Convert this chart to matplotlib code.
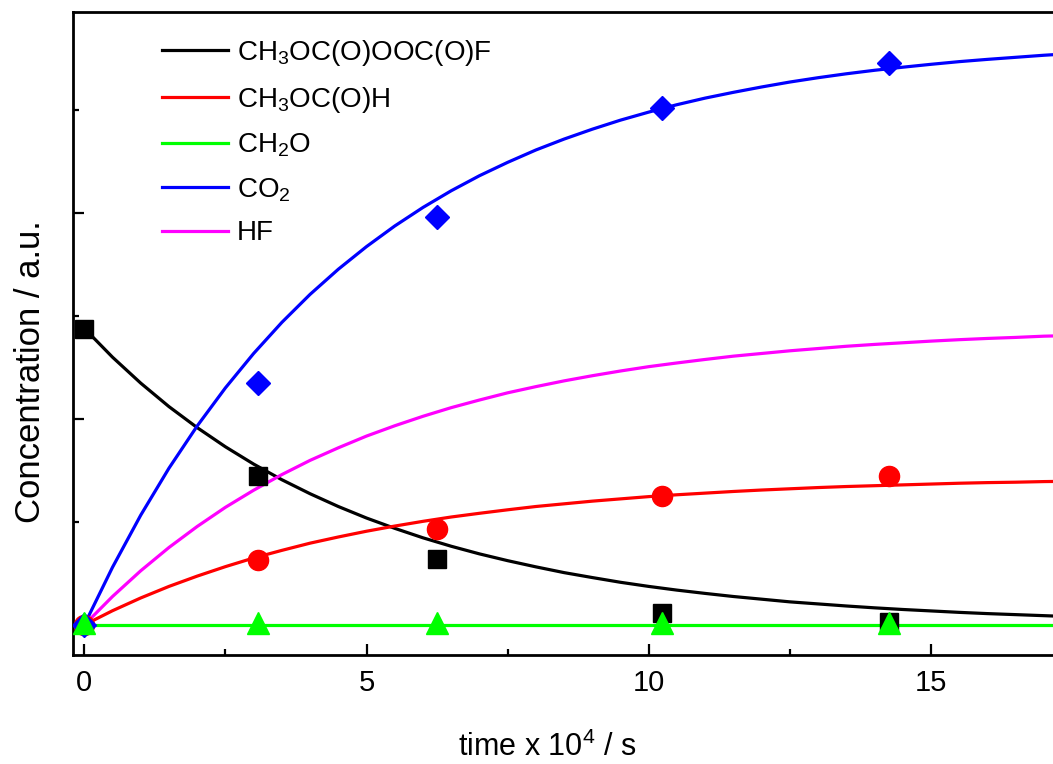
import numpy as np
import matplotlib
matplotlib.use('Agg')
import matplotlib.pyplot as plt
from matplotlib.ticker import MultipleLocator, NullFormatter

plt.rcParams['font.family'] = ['Liberation Sans', 'DejaVu Sans']
plt.rcParams['mathtext.default'] = 'regular'

# measured points (time in 1e4 s)
t_pts = [0, 3.07, 6.24, 10.23, 14.26]
peroxide_pts = [1.437, 0.723, 0.320, 0.058, 0.015]
formate_pts = [0, 0.316, 0.466, 0.626, 0.723]
ch2o_pts = [0.01, 0.01, 0.01, 0.01, 0.01]
co2_pts = [0, 1.175, 1.98, 2.51, 2.73]

# fitted curves
t_fit = [0, 0.5, 1, 1.5, 2, 2.5, 3, 3.5, 4, 4.5, 5, 5.5, 6, 6.5, 7, 7.5, 8, 8.5,
         9, 9.5, 10, 10.5, 11, 11.5, 12, 12.5, 13, 13.5, 14, 14.5, 15, 15.5,
         16, 16.5, 17, 17.3]
peroxide_fit = [1.440, 1.300, 1.174, 1.060, 0.958, 0.865, 0.781, 0.705, 0.637, 0.575,
                0.519, 0.469, 0.423, 0.382, 0.345, 0.312, 0.282, 0.254, 0.230, 0.207,
                0.187, 0.169, 0.153, 0.138, 0.125, 0.112, 0.102, 0.092, 0.083, 0.075,
                0.068, 0.061, 0.055, 0.050, 0.045, 0.042]
formate_fit = [0, 0.069, 0.131, 0.187, 0.237, 0.283, 0.325, 0.362, 0.397, 0.427,
               0.455, 0.480, 0.503, 0.524, 0.542, 0.559, 0.575, 0.588, 0.601, 0.612,
               0.623, 0.632, 0.640, 0.648, 0.655, 0.661, 0.667, 0.672, 0.676, 0.680,
               0.684, 0.688, 0.691, 0.693, 0.696, 0.697]
ch2o_fit = [0] * len(t_fit)
co2_fit = [0, 0.280, 0.533, 0.761, 0.966, 1.151, 1.318, 1.469, 1.605, 1.727,
           1.837, 1.937, 2.027, 2.108, 2.181, 2.246, 2.306, 2.359, 2.407, 2.451,
           2.490, 2.526, 2.558, 2.586, 2.612, 2.636, 2.657, 2.676, 2.693, 2.708,
           2.722, 2.735, 2.746, 2.756, 2.766, 2.771]
hf_fit = [0, 0.138, 0.263, 0.376, 0.478, 0.571, 0.654, 0.730, 0.799, 0.860,
          0.917, 0.967, 1.013, 1.055, 1.092, 1.127, 1.157, 1.185, 1.210, 1.233,
          1.254, 1.272, 1.289, 1.305, 1.318, 1.331, 1.342, 1.353, 1.362, 1.370,
          1.378, 1.385, 1.391, 1.396, 1.402, 1.404]

labels = ['CH$_3$OC(O)OOC(O)F', 'CH$_3$OC(O)H', 'CH$_2$O', 'CO$_2$', 'HF']
colors = ['black', 'red', '#00ff00', 'blue', 'magenta']

fig = plt.figure(figsize=(10.53, 7.64), dpi=100)
ax = fig.add_axes([73/1053, 109/764, 985/1053, 643/764])

lw = 2.3
fits = [peroxide_fit, formate_fit, ch2o_fit, co2_fit, hf_fit]
for y, c, lab in zip(fits, colors, labels):
    ax.plot(t_fit, y, color=c, lw=lw, label=lab, zorder=2, solid_joinstyle='round')

ax.plot(t_pts, peroxide_pts, 's', color='black', ms=12.5, zorder=3)
ax.plot(t_pts, formate_pts, 'o', color='red', ms=14.5, zorder=3)
ax.plot(t_pts, co2_pts, 'D', color='blue', ms=12, zorder=3)
ax.plot(t_pts, ch2o_pts, '^', color='#00ff00', ms=16, zorder=4)

ax.set_xlim(-0.2, 17.25)
ax.set_ylim(-0.146, 2.976)

ax.xaxis.set_major_locator(MultipleLocator(5))
ax.xaxis.set_minor_locator(MultipleLocator(2.5))
ax.yaxis.set_major_locator(MultipleLocator(1))
ax.yaxis.set_minor_locator(MultipleLocator(0.5))
ax.yaxis.set_major_formatter(NullFormatter())

ax.tick_params(which='both', direction='in', width=1.6, top=False, right=False)
ax.tick_params(which='major', length=8, labelsize=21, pad=10)
ax.tick_params(which='minor', length=4.5)
for s in ax.spines.values():
    s.set_linewidth(2)

ax.set_xlabel('time x 10$^4$ / s', fontsize=22)
ax.set_ylabel('Concentration / a.u.', fontsize=25)
ax.xaxis.set_label_coords(0.481, -0.12)
ax.yaxis.set_label_coords(-0.026, 0.44)

leg = ax.legend(loc='upper left', bbox_to_anchor=(0.09, 0.96), frameon=False,
                fontsize=20, handlelength=2.4, handletextpad=0.3,
                labelspacing=0.61, borderpad=0, borderaxespad=0)

fig.savefig('out.png', dpi=100)
